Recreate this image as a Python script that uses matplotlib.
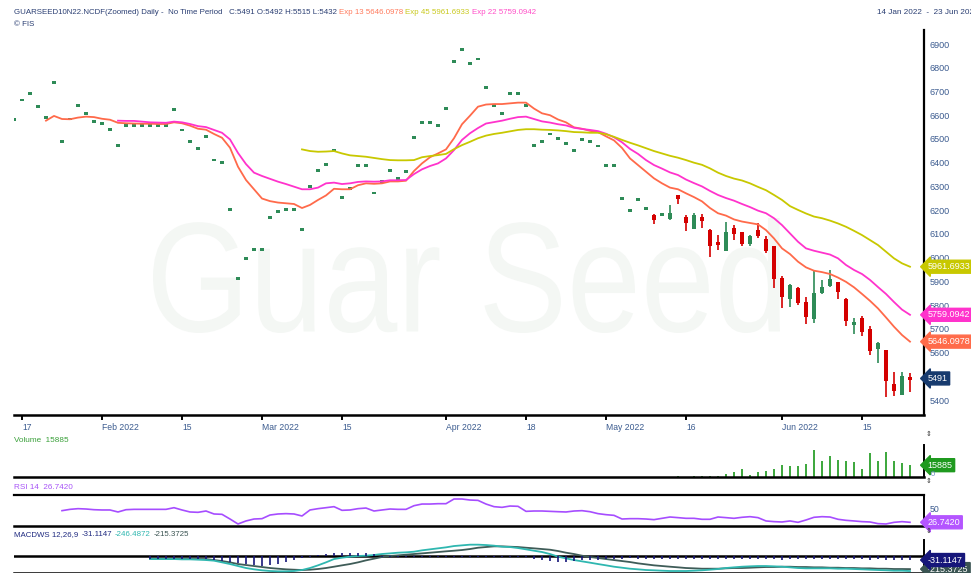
import matplotlib
matplotlib.use("Agg")
import numpy as np
import matplotlib.pyplot as plt
from matplotlib import font_manager
from matplotlib.textpath import TextPath
from matplotlib.patches import PathPatch
from matplotlib.transforms import Affine2D, IdentityTransform

# bar index 0 = 14 Jan 2022 ... 112 = 23 Jun 2022
# bars 0..79 traded flat (open = high = low = close)
flat_close = [
    6583, 6664, 6691, 6635, 6591, 6737, 6488, 6584, 6642, 6608,
    6574, 6564, 6541, 6472, 6555, 6555, 6555, 6555, 6555, 6555,
    6625, 6538, 6491, 6458, 6511, 6411, 6399, 6202, 5913, 5995,
    6036, 6036, 6168, 6195, 6202, 6202, 6119, 6299, 6368, 6394,
    6452, 6252, 6292, 6387, 6387, 6272, 6321, 6368, 6335, 6364,
    6507, 6571, 6568, 6555, 6627, 6827, 6876, 6817, 6837, 6717,
    6640, 6608, 6692, 6692, 6640, 6472, 6491, 6521, 6501, 6482,
    6451, 6498, 6488, 6470, 6389, 6389, 6250, 6199, 6246, 6206,
]
# bars 80..112
cndl_open = [6180, 6178, 6161, 6262, 6170, 6122, 6170, 6115, 6067, 6028, 6126,
             6107, 6056, 6116, 6077, 6049, 5915, 5826, 5873, 5812, 5741, 5851,
             5882, 5896, 5827, 5717, 5744, 5698, 5616, 5609, 5469, 5420, 5492]
cndl_high = [6183, 6184, 6223, 6265, 6180, 6187, 6182, 6122, 6095, 6151, 6136,
             6107, 6095, 6145, 6091, 6049, 5922, 5888, 5877, 5833, 5945, 5906,
             5948, 5899, 5830, 5747, 5755, 5712, 5644, 5609, 5519, 5519, 5515]
cndl_low = [6140, 6176, 6158, 6225, 6112, 6120, 6123, 6004, 6033, 6028, 6074,
            6050, 6049, 6084, 6018, 5873, 5786, 5793, 5800, 5720, 5723, 5847,
            5878, 5827, 5713, 5677, 5671, 5588, 5555, 5411, 5418, 5420, 5432]
cndl_close = [6158, 6182, 6190, 6247, 6147, 6180, 6153, 6050, 6055, 6107, 6101,
              6057, 6090, 6092, 6029, 5909, 5835, 5883, 5807, 5751, 5851, 5876,
              5909, 5854, 5734, 5727, 5688, 5608, 5641, 5480, 5439, 5502, 5491]

ema13_start = 4
ema13 = [
    6577, 6597, 6584, 6583, 6590, 6594, 6592, 6585, 6581, 6568,
    6566, 6565, 6564, 6564, 6563, 6563, 6570, 6566, 6556, 6543,
    6539, 6521, 6505, 6463, 6383, 6327, 6288, 6249, 6238, 6232,
    6229, 6226, 6209, 6222, 6243, 6262, 6290, 6288, 6288, 6305,
    6313, 6311, 6313, 6321, 6321, 6324, 6365, 6397, 6423, 6439,
    6456, 6503, 6562, 6598, 6636, 6645, 6647, 6647, 6650, 6653,
    6653, 6628, 6608, 6600, 6582, 6570, 6549, 6543, 6534, 6529,
    6511, 6494, 6462, 6418, 6390, 6362, 6334, 6313, 6295, 6288,
    6271, 6255, 6237, 6209, 6187, 6177, 6161, 6152, 6146, 6140,
    6116, 6081, 6039, 6015, 5983, 5959, 5945, 5939, 5931, 5916,
    5898, 5875, 5847, 5818, 5786, 5748, 5709, 5674, 5646.0978,
]
ema22_start = 13
ema22 = [
    6577, 6576, 6576, 6573, 6570, 6569, 6568, 6573, 6570, 6563,
    6554, 6550, 6538, 6526, 6498, 6441, 6394, 6358, 6344, 6332,
    6320, 6310, 6299, 6288, 6288, 6295, 6313, 6316, 6310, 6313,
    6319, 6321, 6320, 6321, 6326, 6326, 6327, 6352, 6372, 6386,
    6397, 6418, 6453, 6496, 6524, 6546, 6565, 6571, 6577, 6585,
    6592, 6594, 6584, 6574, 6569, 6562, 6557, 6547, 6542, 6538,
    6533, 6522, 6507, 6486, 6458, 6437, 6411, 6390, 6375, 6359,
    6348, 6329, 6314, 6300, 6281, 6264, 6251, 6240, 6226, 6213,
    6198, 6187, 6166, 6137, 6102, 6067, 6039, 6029, 6021, 6013,
    5997, 5969, 5948, 5931, 5906, 5876, 5847, 5813, 5781, 5759.0942,
]
ema45_start = 36
ema45 = [
    6456, 6449, 6446, 6447, 6449, 6439, 6431, 6428, 6425, 6420,
    6415, 6411, 6410, 6410, 6411, 6423, 6428, 6432, 6437, 6457,
    6474, 6488, 6503, 6514, 6521, 6526, 6532, 6538, 6541, 6541,
    6539, 6538, 6536, 6533, 6529, 6528, 6526, 6526, 6520, 6509,
    6496, 6484, 6473, 6461, 6449, 6439, 6429, 6421, 6411, 6400,
    6391, 6376, 6358, 6344, 6333, 6325, 6313, 6298, 6284, 6264,
    6243, 6217, 6201, 6186, 6173, 6166, 6156, 6144, 6130, 6113,
    6095, 6074, 6053, 6025, 5997, 5976, 5961.6933,
]

vol_start = 83
volume = [900, 470, 930, 1400, 1400, 1870, 3740, 6070, 10740, 2340,
          6540, 7940, 11210, 15880, 14950, 14950, 17280, 36900, 21020, 27550,
          23350, 21950, 19610, 10270, 32220, 21480, 33620, 21950, 19150, 15885]

rsi_start = 6
rsi = [
    47.1, 49.4, 50.6, 50.0, 48.8, 48.3, 48.3, 44.8, 48.8, 49.4,
    49.4, 49.4, 49.4, 49.4, 52.3, 48.3, 44.8, 44.2, 46.5, 41.3,
    40.7, 32.5, 23.8, 29.1, 32.5, 33.1, 39.5, 41.3, 41.9, 41.3,
    37.8, 48.3, 50.6, 52.3, 54.1, 47.7, 48.3, 50.6, 51.7, 46.5,
    48.3, 50.0, 49.4, 49.4, 55.8, 58.7, 58.7, 59.3, 59.3, 67.5,
    67.5, 65.7, 65.1, 58.7, 54.1, 52.9, 55.2, 54.7, 45.9, 46.5,
    46.5, 45.9, 45.3, 44.8, 46.5, 47.1, 45.3, 41.9, 40.1, 38.9,
    32.5, 33.1, 33.1, 32.5, 31.4, 33.7, 36.0, 34.9, 33.7, 33.7,
    32.0, 32.0, 36.0, 34.9, 33.7, 35.5, 36.6, 34.9, 29.1, 27.9,
    27.3, 29.1, 26.7, 30.8, 35.5, 36.6, 36.0, 32.0, 30.2, 29.1,
    27.9, 27.3, 24.4, 23.8, 26.7, 27.9, 26.742,
]

macd_start = 17
macd_line = [
    -54, -54, -54, -54, -59, -59, -64, -70, -80, -107,
    -134, -166, -198, -219, -235, -246, -251, -251, -246, -230,
    -198, -155, -107, -54, -32, -16, -5, 0, 11, 27,
    37, 48, 54, 64, 86, 102, 118, 134, 155, 166,
    177, 177, 171, 161, 144, 139, 123, 102, 80, 59,
    27, -16, -43, -70, -91, -112, -134, -155, -177, -193,
    -209, -219, -230, -235, -241, -246, -246, -246, -241, -235,
    -225, -214, -198, -187, -177, -171, -166, -166, -171, -177,
    -187, -198, -203, -203, -203, -203, -209, -209, -214, -219,
    -225, -230, -235, -241, -241, -246.4872,
]
macd_signal = [
    -54, -54, -54, -54, -54, -54, -54, -54, -70, -86,
    -107, -134, -150, -166, -182, -198, -209, -219, -225, -230,
    -225, -214, -198, -177, -155, -134, -107, -75, -48, -21,
    -5, 5, 16, 27, 37, 48, 59, 70, 80, 91,
    107, 128, 139, 150, 150, 144, 139, 128, 118, 107,
    96, 75, 48, 27, 0, -21, -37, -54, -70, -86,
    -102, -123, -139, -155, -166, -177, -187, -198, -203, -209,
    -209, -209, -203, -198, -198, -193, -187, -182, -182, -177,
    -177, -182, -182, -187, -187, -193, -193, -198, -198, -203,
    -203, -209, -209, -214, -214, -215.3725,
]
macd_hist = [
    -24, -24, -24, -24, -24, -24, -24, -24, -29, -36,
    -43, -53, -62, -67, -72, -67, -60, -48, -34, -19,
    -7, 7, 14, 19, 19, 19, 19, 17, 12, -7,
    -7, -7, -7, -7, -7, -7, -7, -7, -7, -7,
    -7, -7, -7, -7, -7, -7, -7, -7, -24, -34,
    -41, -46, -43, -38, -34, -31, -29, -26, -24, -22,
    -19, -22, -24, -24, -26, -24, -24, -26, -26, -24,
    -24, -22, -22, -24, -24, -26, -24, -24, -26, -29,
    -26, -24, -24, -22, -24, -24, -26, -26, -24, -26,
    -29, -26, -29, -29, -31, -31.1147,
]

xtick_pos = [1, 11, 21, 31, 41, 54, 64, 74, 84, 96, 106]
xtick_lbl = ["17", "Feb 2022", "15", "Mar 2022", "15", "Apr 2022", "18",
             "May 2022", "16", "Jun 2022", "15"]
price_ticks = [5400, 5600, 5700, 5800, 5900, 6000, 6100, 6200, 6300, 6400,
               6500, 6600, 6700, 6800, 6900]   # 5500 sits under the close tag

# ------------------------------------------------------------------
names = {f.name for f in font_manager.fontManager.ttflist}
narrow = "Liberation Sans Narrow" if "Liberation Sans Narrow" in names else "Liberation Sans"
plt.rcParams["font.family"] = [narrow, "DejaVu Sans"]

W, H = 971, 573
fig = plt.figure(figsize=(W / 100, H / 100), dpi=100)
renderer = fig.canvas.get_renderer()

def panel(top, bottom):
    return fig.add_axes([14 / W, 1 - bottom / H, 910 / W, (bottom - top) / H])

def ftxt(x, y, s, **kw):
    kw.setdefault("fontsize", 6.3)
    return fig.text(x / W, 1 - y / H, s, va="center", ha="left", **kw)

def seq_txt(x, y, pieces, size, gap=3):
    # lay out coloured pieces one after another
    for s, col in pieces:
        t = ftxt(x, y, s, color=col, fontsize=size)
        x = t.get_window_extent(renderer).x1 + gap

def tag(ax, val, s, color):
    ax.text(1.004, val, s, transform=ax.get_yaxis_transform(), ha="left", va="center",
            fontsize=6.5, color="white", zorder=10, clip_on=False,
            bbox=dict(boxstyle="larrow,pad=0.22", fc=color, ec=color))

XMAX = 113.75
axis_col = "#3b5b8f"

# ---------------- main price panel ----------------
ax = panel(30, 415)
o = np.array(flat_close + cndl_open, dtype=float)
h = np.array(flat_close + cndl_high, dtype=float)
l = np.array(flat_close + cndl_low, dtype=float)
c = np.array(flat_close + cndl_close, dtype=float)
idx = np.arange(len(c))
up = c >= o
cols = np.where(up, "#2e8b57", "#d40000")

ax.vlines(idx, l, h, colors=cols, lw=1.2, zorder=3)
body_lo = np.minimum(o, c)
body_h = np.abs(c - o)
flat = body_h < 12
body_lo = np.where(flat, (o + c) / 2 - 6, body_lo)
body_h = np.where(flat, 12, body_h)
widths = np.where(flat & (idx < 80), 0.55, 0.62)
ax.bar(idx, body_h, bottom=body_lo, width=widths, color=cols, zorder=4, lw=0)

ax.plot(np.arange(ema13_start, ema13_start + len(ema13)), ema13, color="#ff6a4a", lw=1.3, zorder=5)
ax.plot(np.arange(ema22_start, ema22_start + len(ema22)), ema22, color="#ff33cc", lw=1.3, zorder=5)
ax.plot(np.arange(ema45_start, ema45_start + len(ema45)), ema45, color="#c8c800", lw=1.3, zorder=5)

# faint watermark, squeezed to the narrow face of the original
wm = TextPath((0, 0), "Guar Seed", size=1, prop=font_manager.FontProperties(family="Liberation Sans"))
ex = wm.get_extents()
sx = 627 / ex.width
sy = 115 / ex.height
wm_tr = Affine2D().translate(-ex.x0, -ex.y0).scale(sx, sy).translate(153, H - 333)
ax.add_patch(PathPatch(wm_tr.transform_path(wm), transform=IdentityTransform(),
                       fc="#f4f7f4", ec="none", zorder=0))

ax.set_xlim(0, XMAX)
ax.set_ylim(5337, 6959)
ax.yaxis.tick_right()
ax.set_yticks(price_ticks)
ax.tick_params(axis="y", length=0, pad=4, labelsize=6.5, labelcolor=axis_col)
ax.set_xticks(xtick_pos)
ax.set_xticklabels(xtick_lbl)
for lab in ax.get_xticklabels():
    lab.set_ha("left")
ax.tick_params(axis="x", length=3.5, width=1.4, direction="out", pad=2,
               labelsize=6.2, labelcolor=axis_col)
for s in ("top", "left"):
    ax.spines[s].set_visible(False)
ax.spines["bottom"].set_linewidth(1.8)
ax.spines["right"].set_linewidth(1.6)

tag(ax, ema45[-1], f"{ema45[-1]:.4f}", "#c8c800")
tag(ax, ema22[-1], f"{ema22[-1]:.4f}", "#ff33cc")
tag(ax, ema13[-1], f"{ema13[-1]:.4f}", "#ff6b4a")
tag(ax, c[-1], f"{c[-1]:.0f}", "#173a6e")

# ---------------- volume ----------------
axv = panel(445, 477)
vx = np.arange(vol_start, vol_start + len(volume))
axv.vlines(vx, 0, volume, colors="#2ca02c", lw=1.3)
axv.set_xlim(0, XMAX)
axv.set_ylim(0, 43000)
axv.set_xticks([])
axv.set_yticks([])
for s in ("top", "left"):
    axv.spines[s].set_visible(False)
axv.spines["bottom"].set_linewidth(1.8)
axv.spines["right"].set_linewidth(1.4)
tag(axv, volume[-1], f"{volume[-1]}", "#1f9a1f")

# ---------------- RSI ----------------
axr = panel(495, 525.7)
axr.plot(np.arange(rsi_start, rsi_start + len(rsi)), rsi, color="#a64dff", lw=1.2)
axr.set_xlim(0, XMAX)
axr.set_ylim(20.8, 74.5)
axr.set_xticks([])
axr.set_yticks([])
axr.spines["left"].set_visible(False)
axr.spines["top"].set_linewidth(1.6)
axr.spines["bottom"].set_linewidth(1.8)
axr.spines["right"].set_linewidth(1.4)
tag(axr, rsi[-1], f"{rsi[-1]:.4f}", "#b455ff")

# ---------------- MACD ----------------
axm = panel(540, 572.5)
mx = np.arange(macd_start, macd_start + len(macd_line))
axh = axm.twinx()
axh.vlines(mx, 0, macd_hist, colors="#16167a", lw=1.2)
axh.set_ylim(-121, 113)
axh.axis("off")
axm.axhline(0, color="black", lw=1.8, zorder=1)
axm.plot(mx, macd_signal, color="#3f5c58", lw=1.3, zorder=3)
axm.plot(mx, macd_line, color="#2fb7b0", lw=1.3, zorder=3)
axm.set_xlim(0, XMAX)
axm.set_ylim(-270, 252)
axm.set_xticks([])
axm.set_yticks([])
for s in ("top", "left"):
    axm.spines[s].set_visible(False)
axm.spines["bottom"].set_linewidth(1.8)
axm.spines["right"].set_linewidth(1.4)
tag(axh, macd_hist[-1], f"{macd_hist[-1]:.4f}", "#16167a")
tag(axm, macd_signal[-1], f"{macd_signal[-1]:.4f}", "#3a5452")

# ---------------- texts ----------------
hdr = "#2b3f73"
seq_txt(14, 12, [
    ("GUARSEED10N22.NCDF(Zoomed) Daily -  No Time Period   "
     f"C:{c[-1]:.0f} O:{o[-1]:.0f} H:{h[-1]:.0f} L:{l[-1]:.0f}", hdr),
    (f"Exp 13 {ema13[-1]:.4f}", "#ff7a5c"),
    (f"Exp 45 {ema45[-1]:.4f}", "#c9c91e"),
    (f"Exp 22 {ema22[-1]:.4f}", "#ff4fc8"),
], size=5.7, gap=2)
ftxt(14, 25, "© FIS", color=hdr, fontsize=5.7)
ftxt(877, 12, "14 Jan 2022  -  23 Jun 2022", color=hdr, fontsize=5.9)

ftxt(14, 440.5, f"Volume  {volume[-1]}", color="#3aa03a", fontsize=5.9)
ftxt(14, 487.5, f"RSI 14  {rsi[-1]:.4f}", color="#a855f7", fontsize=5.9)
seq_txt(14, 535, [
    ("MACDWS 12,26,9", "#1f2a80"),
    (f"{macd_hist[-1]:.4f}", "#1f2a80"),
    (f"{macd_line[-1]:.4f}", "#2fb7b0"),
    (f"{macd_signal[-1]:.4f}", "#3a5452"),
], size=5.7, gap=3)

ftxt(931, 474, "0", color="#6a8ac0", fontsize=5.5)
ftxt(930, 509, "50", color=axis_col, fontsize=6.3)
for yy in (434, 481, 531):
    ftxt(926, yy, "⇕", color="#333333", fontsize=5)

fig.savefig("out.png", dpi=100)
